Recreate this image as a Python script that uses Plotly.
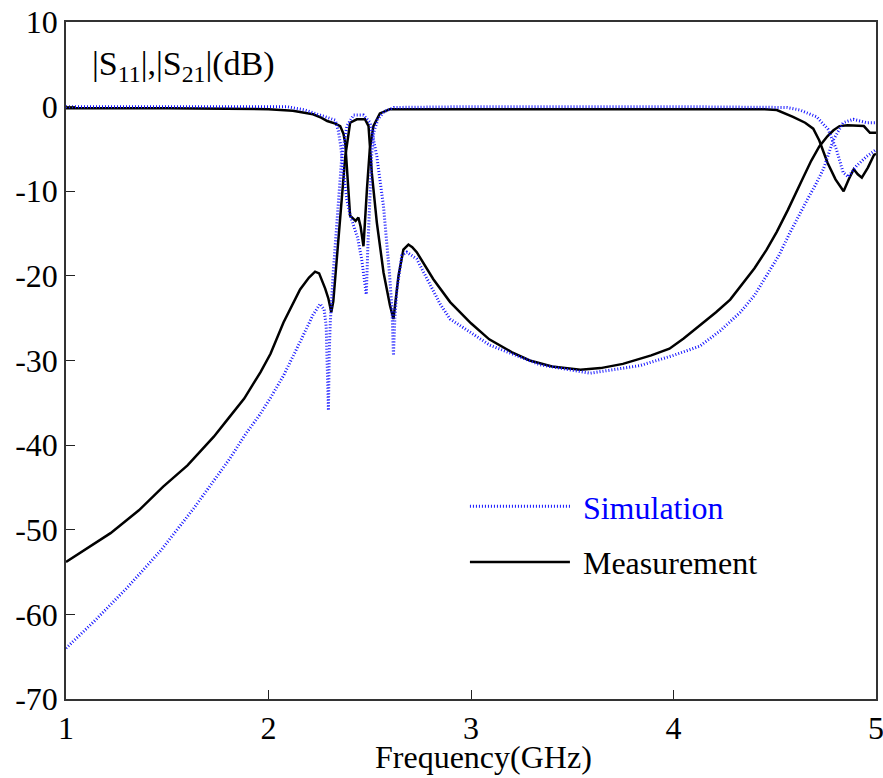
import plotly.graph_objects as go

# ---------------- data ----------------
meas_s21_f = [1.00, 1.10, 1.22, 1.36, 1.48, 1.60, 1.73, 1.80, 1.88, 1.96, 2.01, 2.074, 2.12, 2.156,
              2.20, 2.23, 2.25, 2.263, 2.28, 2.296, 2.31, 2.32, 2.33, 2.354, 2.379, 2.403, 2.436,
              2.477, 2.494, 2.51, 2.535, 2.568, 2.60, 2.617, 2.642, 2.666, 2.691, 2.71, 2.732,
              2.814, 2.897, 3.00, 3.09, 3.20, 3.29, 3.40, 3.54, 3.64, 3.75, 3.89, 3.98, 4.05,
              4.13, 4.21, 4.28, 4.34, 4.40, 4.46, 4.51, 4.565, 4.60, 4.64, 4.68, 4.72, 4.76, 4.79,
              4.82, 4.86, 4.94, 4.97, 5.00]
meas_s21_db = [-53.8, -52.3, -50.4, -47.7, -44.9, -42.4, -39.0, -36.9, -34.5, -31.4, -29.2, -25.5, -23.4, -21.6,
               -20.2, -19.5, -19.7, -20.4, -21.5, -22.7, -24.3, -23.0, -20.0, -12.9, -5.9, -1.9, -1.5,
               -1.5, -2.3, -7.8, -13.7, -19.6, -23.5, -25.1, -20.0, -16.9, -16.3, -16.6, -17.2,
               -20.4, -23.1, -25.6, -27.5, -29.0, -30.0, -30.7, -31.1, -30.9, -30.4, -29.4, -28.6, -27.4,
               -25.9, -24.3, -22.8, -21.0, -19.1, -16.9, -14.8, -12.2, -10.5, -8.4, -6.4, -4.7, -3.5, -2.8,
               -2.3, -2.2, -2.3, -3.1, -3.1]

meas_s11_f = [1.00, 1.50, 2.00, 2.05, 2.12, 2.22, 2.26, 2.29, 2.33, 2.354, 2.37, 2.379, 2.39, 2.403,
              2.43, 2.444, 2.455, 2.469, 2.486, 2.50, 2.518, 2.55, 2.60, 3.00, 3.50, 4.00, 4.45,
              4.51, 4.59, 4.65, 4.69, 4.72, 4.76, 4.80, 4.84, 4.865, 4.89, 4.91, 4.93, 4.96, 4.99, 5.00]
meas_s11_db = [-0.2, -0.2, -0.3, -0.35, -0.5, -0.9, -1.3, -1.7, -2.0, -2.3, -3.2, -4.3, -7.8, -12.9,
               -13.5, -13.1, -14.2, -16.5, -9.8, -5.1, -2.3, -0.8, -0.3, -0.3, -0.3, -0.3, -0.3,
               -0.4, -1.2, -1.9, -2.6, -4.0, -6.6, -8.6, -10.0, -8.6, -7.4, -8.0, -8.4, -7.2, -5.7, -5.6]

sim_s21_f = [1.00, 1.14, 1.30, 1.47, 1.63, 1.80, 1.89, 1.96, 2.01, 2.074, 2.156, 2.22, 2.255, 2.275,
             2.285, 2.296, 2.30, 2.305, 2.32, 2.338, 2.362, 2.387, 2.42, 2.469, 2.502, 2.535, 2.568,
             2.597, 2.61, 2.617, 2.624, 2.634, 2.658, 2.683, 2.732, 2.847, 2.897, 3.094, 3.341,
             3.588, 3.835, 3.999, 4.13, 4.23, 4.33, 4.40, 4.46, 4.52, 4.575, 4.62, 4.665, 4.70,
             4.74, 4.79, 4.838, 4.888, 4.954, 5.00]
sim_s21_db = [-64.0, -60.8, -56.9, -52.4, -47.5, -41.9, -38.6, -36.3, -34.4, -31.8, -27.8, -24.6, -23.3, -24.0,
              -26.0, -35.9, -29.0, -25.5, -19.5, -13.7, -5.9, -2.3, -1.0, -1.0, -1.9, -5.9, -11.8,
              -19.6, -24.0, -29.4, -25.0, -21.6, -17.6, -17.2, -18.0, -23.3, -25.1, -28.2, -30.5,
              -31.5, -30.6, -29.4, -28.3, -26.5, -24.3, -22.3, -20.0, -17.6, -14.9, -12.8, -10.8, -9.3,
              -7.4, -3.9, -1.9, -1.5, -1.9, -1.9]

sim_s11_f = [1.00, 2.00, 2.09, 2.18, 2.26, 2.30, 2.33, 2.345, 2.357, 2.37, 2.387, 2.403, 2.42, 2.44,
             2.46, 2.475, 2.483, 2.49, 2.50, 2.51, 2.52, 2.54, 2.57, 2.62, 3.00, 4.00, 4.56, 4.624,
             4.707, 4.764, 4.805, 4.838, 4.863, 4.904, 4.953, 5.00]
sim_s11_db = [0.0, 0.0, 0.0, -0.4, -1.0, -1.3, -1.6, -2.9, -4.7, -7.8, -11.0, -12.8, -14.0, -15.5,
              -18.0, -20.5, -22.2, -17.0, -10.0, -5.5, -3.0, -1.5, -0.6, -0.1, 0.0, 0.0, -0.1, -0.4,
              -1.2, -2.7, -5.1, -7.8, -8.3, -7.0, -5.9, -5.1]

x_ticks = [1, 2, 3, 4, 5]
x_tick_text = ["1", "2", "3", "4", "5"]
y_ticks = [10, 0, -10, -20, -30, -40, -50, -60, -70]
y_tick_text = ["10", "0", "-10", "-20", "-30", "-40", "-50", "-60", "-70"]

FONT = "Liberation Serif"
BLUE = "rgb(20,20,255)"

fig = go.Figure()

# measurement (drawn first so simulation dots sit on top)
fig.add_trace(go.Scatter(x=meas_s11_f, y=meas_s11_db, mode="lines", name=" Measurement",
                         line=dict(color="black", width=2.5), legendgroup="m", legendrank=2,
                         showlegend=True))
fig.add_trace(go.Scatter(x=meas_s21_f, y=meas_s21_db, mode="lines", name="Measurement",
                         line=dict(color="black", width=2.5), legendgroup="m", showlegend=False))
# simulation
fig.add_trace(go.Scatter(x=sim_s11_f, y=sim_s11_db, mode="lines",
                         name=" <span style='color:blue'>Simulation</span>",
                         line=dict(color=BLUE, width=3, dash="1px,2px"), legendgroup="s",
                         legendrank=1, showlegend=True))
fig.add_trace(go.Scatter(x=sim_s21_f, y=sim_s21_db, mode="lines", name="Simulation",
                         line=dict(color=BLUE, width=3, dash="1px,2px"), legendgroup="s",
                         showlegend=False))

axis_common = dict(showgrid=False, zeroline=False, ticks="inside", ticklen=9, tickwidth=1.2,
                   tickcolor="#222", showline=True, linecolor="#333", linewidth=1.5, mirror=True,
                   automargin=False, ticklabeloverflow="allow",
                   tickfont=dict(family=FONT, size=32, color="black"))

fig.update_xaxes(range=[1, 5], tickvals=x_ticks, ticktext=x_tick_text, **axis_common)
fig.update_yaxes(range=[-70, 10], tickvals=y_ticks, ticktext=y_tick_text, **axis_common)

fig.add_annotation(text="|S<sub>11</sub>|,|S<sub>21</sub>|(dB)", xref="paper", yref="paper",
                   x=0.03, y=0.935, xanchor="left", yanchor="middle", showarrow=False,
                   font=dict(family=FONT, size=34, color="black"))
fig.add_annotation(text="Frequency(GHz)", xref="paper", yref="paper",
                   x=0.515, y=-0.085, xanchor="center", yanchor="middle", showarrow=False,
                   font=dict(family=FONT, size=32, color="black"))

fig.update_layout(
    width=883, height=778,
    margin=dict(l=66, r=7, t=22, b=79, autoexpand=False),
    paper_bgcolor="white", plot_bgcolor="white",
    font=dict(family=FONT, size=32, color="black"),
    showlegend=True,
    legend=dict(x=0.4925, y=0.243, xanchor="left", yanchor="middle", bgcolor="rgba(0,0,0,0)",
                traceorder="grouped", tracegroupgap=11, itemwidth=100,
                font=dict(family=FONT, size=32, color="black")),
)

# remove the browser's default page margin so the figure fills the window exactly
fig.write_html("out.html",
               config={"displayModeBar": False},
               post_script="document.body.style.margin='0';document.body.style.overflow='hidden';")
